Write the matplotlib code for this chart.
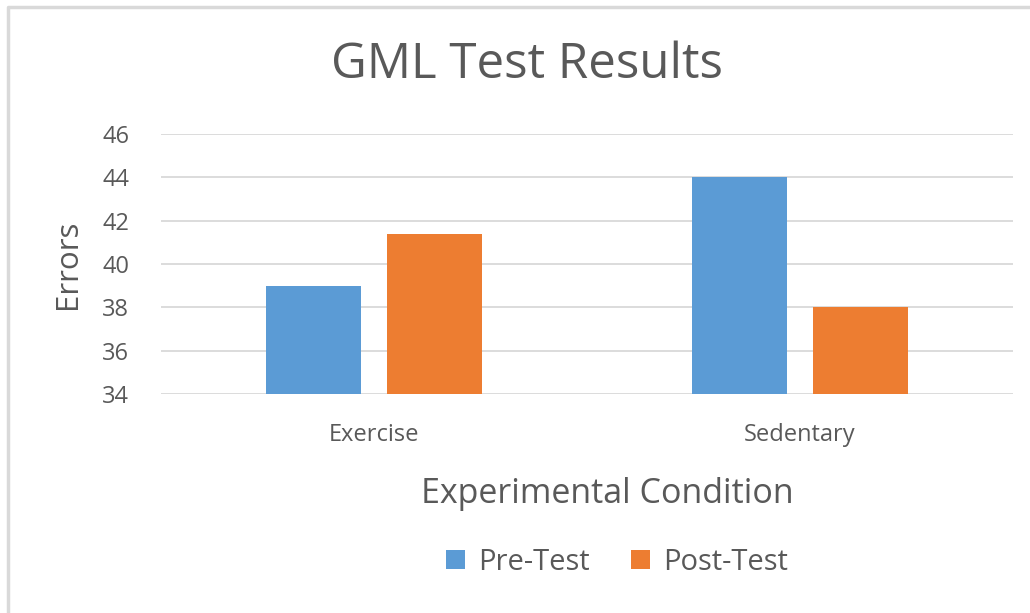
#!/usr/bin/env python3

"""
GML test results: errors per experimental condition, pre vs post test.
"""

import numpy as np
import matplotlib
matplotlib.use('Agg')
from matplotlib import pyplot as plt
from matplotlib.lines import Line2D

conditions = ['Exercise', 'Sedentary']
pre_test = [39.0, 44.0]
post_test = [41.4, 38.0]
yticks = [34, 36, 38, 40, 42, 44, 46]

BLUE = '#5b9bd5'
ORANGE = '#ed7d31'
TEXT = '#595959'
GRID = '#d9d9d9'

plt.rcParams['font.family'] = ['Open Sans', 'DejaVu Sans']


def main():
    fig = plt.figure(figsize=(10.30, 6.13), dpi=100)

    # light chart-area border (only top and left visible in the crop)
    fx, fy = 8/1030, 1 - 7/613
    fig.lines.append(Line2D([fx, fx, 1.0], [0, fy, fy], transform=fig.transFigure,
                            color=GRID, lw=2.5))

    ax = fig.add_axes([161/1030, 1 - 394/613, 852/1030, 260/613])
    x = np.arange(len(conditions))
    w = 0.223
    off = 0.142
    ax.bar(x - off, np.array(pre_test) - 34, w, bottom=34, color=BLUE, label='Pre-Test', zorder=3)
    ax.bar(x + off, np.array(post_test) - 34, w, bottom=34, color=ORANGE, label='Post-Test', zorder=3)

    ax.set_xlim(-0.5, 1.5)
    ax.set_ylim(34, 46)
    ax.set_yticks(yticks)
    ax.set_xticks(x)
    ax.set_xticklabels(conditions)
    for s in ax.spines.values():
        s.set_visible(False)
    ax.grid(axis='y', color=GRID, lw=1.3, zorder=0)
    ax.tick_params(length=0, colors=TEXT)
    ax.tick_params(axis='y', labelsize=17, pad=23)
    ax.tick_params(axis='x', labelsize=17, pad=21)
    for lab in ax.get_yticklabels() + ax.get_xticklabels():
        lab.set_color(TEXT)

    ax.set_ylabel('Errors', fontsize=22.5, color=TEXT, labelpad=14)
    fig.text(527/1030, 1 - 65/613, 'GML Test Results', ha='center', va='center',
             fontsize=35.5, color=TEXT)
    fig.text(607/1030, 1 - 494/613, 'Experimental Condition', ha='center', va='center',
             fontsize=24.5, color=TEXT)

    leg = fig.legend(loc='center', bbox_to_anchor=(617/1030, 1 - 562/613), ncol=2,
                     frameon=False, fontsize=21, handlelength=0.65, handleheight=0.65,
                     handletextpad=0.45, columnspacing=1.4)
    for t in leg.get_texts():
        t.set_color(TEXT)

    fig.savefig('out.png', dpi=100, facecolor='white')


if __name__ == '__main__':
    main()
